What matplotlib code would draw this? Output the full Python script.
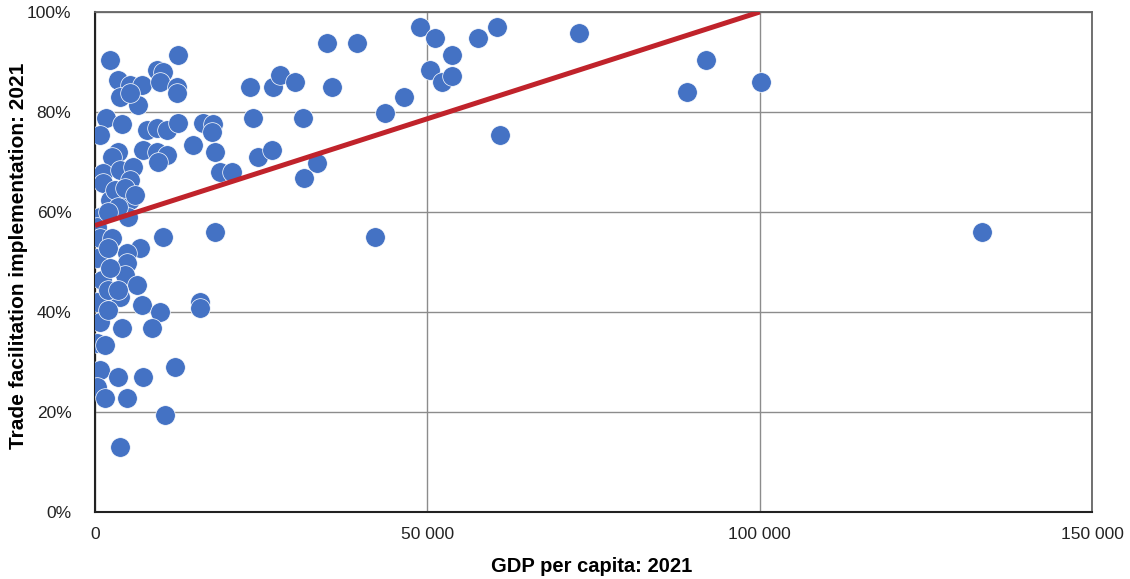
import matplotlib.pyplot as plt
from matplotlib.ticker import FuncFormatter

plt.rcParams['font.family'] = ['Liberation Sans', 'DejaVu Sans']

# GDP per capita (USD) and trade facilitation implementation (%)
gdp = [2300, 3500, 5300, 7100, 3800, 6500, 5300, 9300, 10200, 9800,
       12300, 12300, 12500, 23300, 26800, 1700, 750, 4100, 7800, 9300,
       10800, 12500, 16200, 17700, 17600, 23800, 3500, 2600, 7200, 9300,
       10800, 9500, 14700, 18000, 24500, 26600, 1200, 1200, 3800, 5700,
       5300, 2300, 5300, 5000, 18800, 20600, 750, 300, 750, 2600,
       10200, 18000, 6800, 4800, 300, 4800, 4500, 1050, 6300, 300,
       3800, 7100, 9800, 15800, 15800, 750, 4100, 8600, 300, 1500,
       750, 3500, 7200, 12000, 300, 1500, 4800, 10500, 3800, 27800,
       30100, 34900, 39400, 35600, 48900, 50400, 31300, 43600, 46500, 33400,
       31400, 42100, 51100, 53700, 57600, 60500, 52200, 53700, 60900, 72800,
       91900, 89000, 100200, 133500, 3000, 4500, 3500, 2000, 6000, 2000,
       2300, 2000, 2000, 3500]
tfi = [90.4, 86.4, 85.4, 85.4, 83.0, 81.4, 83.8, 88.4, 88.0, 86.0,
       85.0, 83.8, 91.4, 85.0, 85.0, 78.8, 75.4, 77.6, 76.4, 76.8,
       76.4, 77.8, 77.8, 77.6, 76.0, 78.8, 72.0, 71.0, 72.4, 72.0,
       71.4, 70.0, 73.4, 72.0, 71.0, 72.4, 67.8, 65.8, 68.4, 69.0,
       66.4, 62.4, 62.4, 59.0, 68.0, 68.0, 59.0, 57.0, 54.8, 54.8,
       55.0, 56.0, 52.8, 51.8, 50.8, 49.8, 47.4, 46.4, 45.4, 42.0,
       43.0, 41.4, 40.0, 42.0, 40.8, 38.0, 36.8, 36.8, 33.8, 33.4,
       28.4, 27.0, 27.0, 29.0, 25.0, 22.8, 22.8, 19.4, 13.0, 87.4,
       86.0, 93.8, 93.8, 85.0, 97.0, 88.4, 78.8, 79.8, 83.0, 69.8,
       66.8, 55.0, 94.8, 91.4, 94.8, 97.0, 86.0, 87.2, 75.4, 95.8,
       90.4, 84.0, 86.0, 56.0, 64.4, 64.8, 61.0, 60.0, 63.4, 52.8,
       48.8, 44.4, 40.4, 44.4]

# linear trend line end points
trend_x = [0, 100000]
trend_y = [57.3, 100.0]

fig = plt.figure(figsize=(11.3, 5.79), dpi=100)
ax = fig.add_axes([0.0841, 0.1157, 0.8823, 0.8636])

ax.scatter(gdp, tfi, s=200, color='#4472C4', edgecolors='white', linewidths=0.5, zorder=3)
ax.plot(trend_x, trend_y, color='#C0232B', lw=3.6, solid_capstyle='butt', zorder=4)

ax.set_xlim(0, 150000)
ax.set_ylim(0, 100)
ax.set_xticks([0, 50000, 100000, 150000])
ax.set_yticks([0, 20, 40, 60, 80, 100])
ax.xaxis.set_major_formatter(FuncFormatter(lambda v, p: f"{int(v):,}".replace(",", " ")))
ax.yaxis.set_major_formatter(FuncFormatter(lambda v, p: f"{int(v)}%"))
ax.tick_params(length=0, labelsize=12.5, colors='#222222')
ax.tick_params(axis='x', pad=11)
ax.tick_params(axis='y', pad=17)

ax.grid(True, color='#8c8c8c', lw=1)
ax.set_axisbelow(True)
for side in ['top', 'right']:
    ax.spines[side].set_color('#666666')
    ax.spines[side].set_linewidth(1.3)
for side in ['left', 'bottom']:
    ax.spines[side].set_color('#222222')
    ax.spines[side].set_linewidth(1.5)

fig.text(592 / 1130, 1 - 567 / 579, "GDP per capita: 2021", fontsize=14.5, fontweight='bold',
         ha='center', va='center')
fig.text(19 / 1130, 1 - 256 / 579, "Trade facilitation implementation: 2021", fontsize=15,
         fontweight='bold', rotation=90, ha='center', va='center')

fig.savefig("out.png", dpi=100)
